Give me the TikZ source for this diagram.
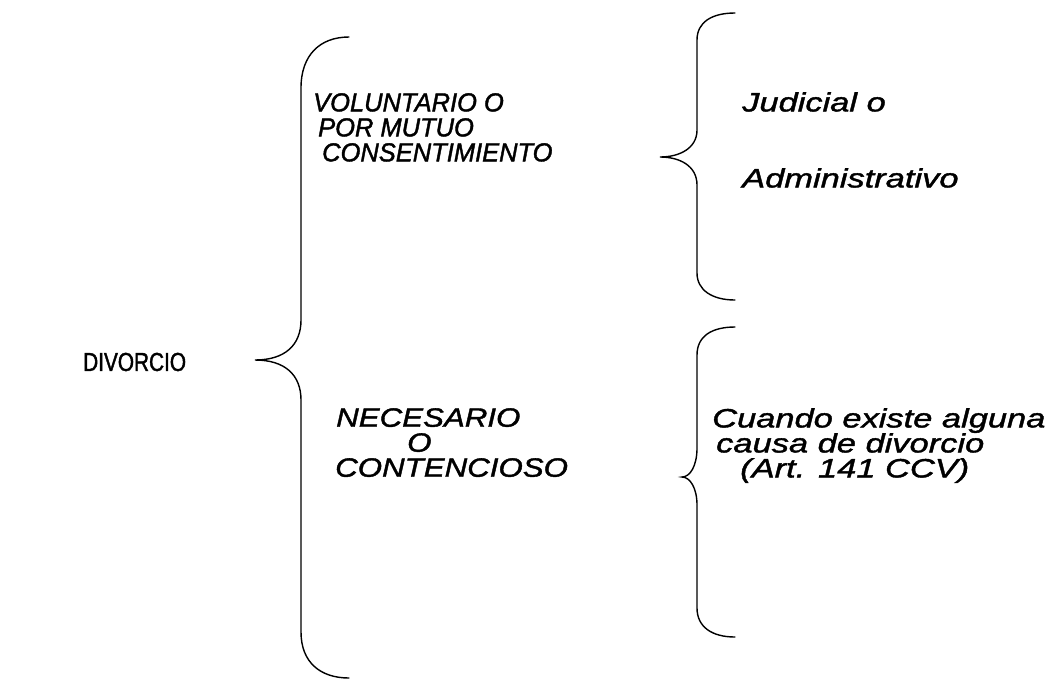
\documentclass[tikz,border=0pt]{standalone}
\usepackage{fontspec}
\setmainfont{Liberation Sans}
\newfontfamily\fontdiv[FakeStretch=0.8,FakeBold=1.5]{Liberation Sans}
\newfontfamily\fontvol[FakeStretch=0.98,FakeBold=1.5]{Liberation Sans}
\newfontfamily\fontnec[FakeStretch=1.18,FakeBold=1.5]{Liberation Sans}
\newfontfamily\fontright[FakeStretch=1.30,FakeBold=1.5]{Liberation Sans}
\begin{document}
\begin{tikzpicture}[x=1pt,y=-1pt]
\tikzset{
  brace/.style={line width=1.4pt, black, line cap=round},
  lbl/.style={inner sep=0pt, anchor=north west, align=left, text=black},
  divfont/.style={font=\fontdiv\fontsize{26}{26}\selectfont},
  volfont/.style={font=\fontvol\itshape\fontsize{26}{25}\selectfont},
  necfont/.style={font=\fontnec\itshape\fontsize{26.5}{25}\selectfont},
  rightfont/.style={font=\fontright\itshape\fontsize{26.5}{25}\selectfont}
}
\useasboundingbox (0,0) rectangle (1051,681);
\fill[white] (0,0) rectangle (1051,681);

% main label
\node[lbl, anchor=west, divfont] (div) at (83,362) {DIVORCIO};

% big brace
\coordinate (bigtip) at (255,360);
\draw[brace] (349,37) .. controls (320,37) and (301,55) .. (301,88)
  -- (301,320) .. controls (301,345) and (285,360) .. (bigtip)
  .. controls (285,360) and (301,375) .. (301,400)
  -- (301,632) .. controls (301,662) and (320,678) .. (349,678);

% upper right brace
\coordinate (uptip) at (660,157);
\draw[brace] (735,13) .. controls (712,13) and (697,22) .. (697,40)
  -- (697,130) .. controls (697,148) and (680,157) .. (uptip)
  .. controls (680,157) and (697,166) .. (697,185)
  -- (697,273) .. controls (697,290) and (712,300) .. (735,300);

% lower right brace
\coordinate (lotip) at (682,477);
\draw[brace] (735,327) .. controls (712,327) and (697,336) .. (697,355)
  -- (697,448) .. controls (697,466) and (690,477) .. (lotip)
  .. controls (690,477) and (697,488) .. (697,505)
  -- (697,608) .. controls (697,627) and (712,637) .. (735,637);

% texts
\node[lbl, volfont] (vol) at (313,93) {VOLUNTARIO O\\\hspace*{5pt}POR MUTUO\\\hspace*{9pt}CONSENTIMIENTO};
\node[lbl, necfont] (nec) at (335,408) {\hspace*{1pt}NECESARIO\\\hspace*{72pt}O\\CONTENCIOSO};
\node[lbl, rightfont] (jud) at (742,92) {Judicial o};
\node[lbl, rightfont] (adm) at (742,168) {Administrativo};
\node[lbl, rightfont] (cua) at (712,408) {Cuando existe alguna\\\hspace*{4pt}causa de divorcio\\\hspace*{28pt}(Art. 141 CCV)};
\end{tikzpicture}
\end{document}
